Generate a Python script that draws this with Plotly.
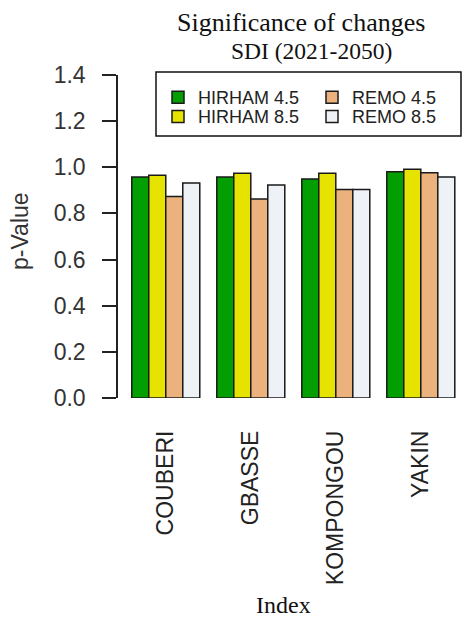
import plotly.graph_objects as go

categories = ["COUBERI", "GBASSE", "KOMPONGOU", "YAKIN"]
series_names = ["HIRHAM 4.5", "HIRHAM 8.5", "REMO 4.5", "REMO 8.5"]
hirham45 = [0.958, 0.958, 0.949, 0.981]
hirham85 = [0.966, 0.974, 0.974, 0.991]
remo45 = [0.873, 0.863, 0.904, 0.976]
remo85 = [0.932, 0.923, 0.904, 0.958]
y_ticks = [0.0, 0.2, 0.4, 0.6, 0.8, 1.0, 1.2, 1.4]

colors = ["#029E02", "#E6E300", "#ECB27E", "#EEF1F5"]
values = [hirham45, hirham85, remo45, remo85]
legend_ids = ["legend", "legend2", "legend3", "legend4"]

W, H = 465, 620
L, R, T, B = 118, 0, 75, 222
pw, ph = W - L - R, H - T - B

def px_x(x):
    return (x - L) / pw

def px_y(y):
    return (H - B - y) / ph

fig = go.Figure()
for name, vals, col, lg in zip(series_names, values, colors, legend_ids):
    fig.add_trace(go.Bar(
        x=categories, y=vals, name=name,
        marker=dict(color=col, line=dict(color="#1a1a1a", width=1.5)),
        legend=lg,
    ))

sans = "Liberation Sans, Arial, sans-serif"
serif = "Liberation Serif, Times New Roman, serif"

leg_common = dict(
    orientation="v", xanchor="left", yanchor="middle",
    font=dict(family=sans, size=18, color="#222"),
    bgcolor="rgba(0,0,0,0)", borderwidth=0,
    itemclick=False, itemdoubleclick=False,
)
col_x = [158, 158, 312, 312]
row_y = [97.5, 116.7, 97.5, 116.7]
legend_layout = {
    lg: dict(x=px_x(cx), y=px_y(ry), **leg_common)
    for lg, cx, ry in zip(legend_ids, col_x, row_y)
}

fig.update_layout(
    width=W, height=H,
    margin=dict(l=L, r=R, t=T, b=B, pad=0),
    paper_bgcolor="white", plot_bgcolor="white",
    barmode="group", bargap=0.2, bargroupgap=0,
    showlegend=True,
    **legend_layout,
    xaxis=dict(
        type="category", range=[-0.562, 3.52],
        showline=False, showgrid=False, zeroline=False,
        ticks="", tickangle=-90, ticklabelstandoff=27,
        tickfont=dict(family=sans, size=23, color="#222"),
    ),
    yaxis=dict(
        range=[0, 1.4], tickvals=y_ticks, ticktext=[f"{v:.1f}" for v in y_ticks],
        showline=True, linecolor="#222", linewidth=1.5,
        ticks="outside", ticklen=14, tickwidth=1.5, tickcolor="#222",
        ticklabelstandoff=12,
        showgrid=False, zeroline=False,
        tickfont=dict(family=sans, size=23, color="#333"),
    ),
    shapes=[dict(
        type="rect", xref="paper", yref="paper",
        x0=px_x(156), x1=px_x(461), y0=px_y(136), y1=px_y(72),
        line=dict(color="#111", width=1.5), fillcolor="rgba(0,0,0,0)",
    )],
    annotations=[
        dict(text="Significance of changes", xref="paper", yref="paper",
             x=px_x(301), y=px_y(22), xanchor="center", yanchor="middle",
             showarrow=False, font=dict(family=serif, size=26, color="#111")),
        dict(text="SDI (2021-2050)", xref="paper", yref="paper",
             x=px_x(311), y=px_y(51), xanchor="center", yanchor="middle",
             showarrow=False, font=dict(family=serif, size=23.5, color="#111")),
        dict(text="Index", xref="paper", yref="paper",
             x=px_x(283), y=px_y(605), xanchor="center", yanchor="middle",
             showarrow=False, font=dict(family=serif, size=24, color="#111")),
        dict(text="p-Value", xref="paper", yref="paper",
             x=px_x(20), y=px_y(231), xanchor="center", yanchor="middle",
             textangle=-90,
             showarrow=False, font=dict(family=sans, size=23, color="#333")),
    ],
)

fig.write_html("out.html", config={"displayModeBar": False},
               post_script="document.body.style.margin='0';")
